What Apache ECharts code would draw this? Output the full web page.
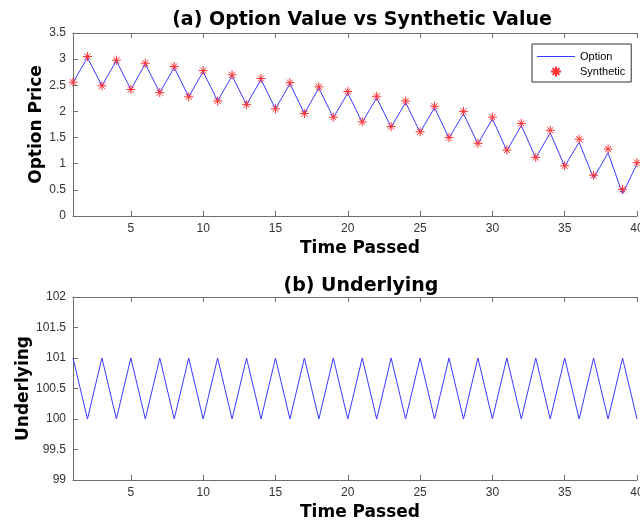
<!DOCTYPE html>
<html>
<head>
<meta charset="utf-8">
<title>Option Value vs Synthetic Value</title>
<script src="https://cdn.jsdelivr.net/npm/echarts@6/dist/echarts.min.js"></script>
<style>
  html, body { margin: 0; padding: 0; background: #fff; }
  #chart { width: 640px; height: 525px; }
</style>
</head>
<body>
<div id="chart"></div>
<script>
// Data
const timePassed = [1, 2, 3, 4, 5, 6, 7, 8, 9, 10, 11, 12, 13, 14, 15, 16, 17, 18, 19, 20,
  21, 22, 23, 24, 25, 26, 27, 28, 29, 30, 31, 32, 33, 34, 35, 36, 37, 38, 39, 40]

const optionValue = [2.55, 3.03, 2.49, 2.97, 2.42, 2.91, 2.36, 2.84, 2.28, 2.76,
  2.20, 2.68, 2.13, 2.61, 2.05, 2.53, 1.96, 2.45, 1.88, 2.35,
  1.79, 2.26, 1.70, 2.17, 1.60, 2.07, 1.49, 1.96, 1.38, 1.86,
  1.25, 1.73, 1.11, 1.59, 0.95, 1.41, 0.72, 1.21, 0.42, 1.00]

const syntheticValue = [2.56, 3.05, 2.49, 2.98, 2.42, 2.92, 2.36, 2.86, 2.28, 2.78,
  2.20, 2.70, 2.13, 2.63, 2.05, 2.55, 1.96, 2.47, 1.89, 2.38,
  1.80, 2.29, 1.71, 2.20, 1.61, 2.10, 1.50, 2.00, 1.39, 1.89,
  1.26, 1.77, 1.12, 1.64, 0.96, 1.47, 0.78, 1.28, 0.51, 1.02]

const underlying = [101, 100, 101, 100, 101, 100, 101, 100, 101, 100,
  101, 100, 101, 100, 101, 100, 101, 100, 101, 100,
  101, 100, 101, 100, 101, 100, 101, 100, 101, 100,
  101, 100, 101, 100, 101, 100, 101, 100, 101, 100]

const xTicks = [5, 10, 15, 20, 25, 30, 35, 40]

const axisColor = '#6e6e6e'
const labelColor = '#333'
const lineBlue = '#3a3aff'
const boldFont = 'DejaVu Sans'
const plainFont = 'Liberation Sans'

// MATLAB '*' marker
const asterisk = 'path://M5,0L5,10M0,5L10,5M1.6,1.6L8.4,8.4M1.6,8.4L8.4,1.6'
// plain line for the legend entry of the option curve
const lineIcon = 'path://M0,0L38,0L38,1.2L0,1.2Z'

const pairs = (xs, ys) => xs.map((x, i) => [x, ys[i]])

const bottomAxis = (gridIndex) => ({
  type: 'value',
  gridIndex: gridIndex,
  min: 1,
  max: 40,
  name: 'Time Passed',
  nameLocation: 'middle',
  nameGap: 24,
  nameMoveOverlap: false,
  nameTextStyle: { fontFamily: boldFont, fontWeight: 'bold', fontSize: 17, color: '#000', padding: [0, 0, 0, 10] },
  axisLine: { show: true, lineStyle: { color: axisColor, width: 1 } },
  axisTick: { show: true, inside: true, length: 5, customValues: xTicks, lineStyle: { color: axisColor } },
  axisLabel: { customValues: xTicks, fontFamily: plainFont, fontSize: 12, color: labelColor, margin: 7 },
  splitLine: { show: false }
})

const topAxis = (gridIndex) => ({
  type: 'value',
  gridIndex: gridIndex,
  position: 'top',
  min: 1,
  max: 40,
  axisLine: { show: true, lineStyle: { color: axisColor, width: 1 } },
  axisTick: { show: true, inside: true, length: 5, customValues: xTicks, lineStyle: { color: axisColor } },
  axisLabel: { show: false },
  splitLine: { show: false }
})

const leftAxis = (gridIndex, min, max, name, gap) => ({
  type: 'value',
  gridIndex: gridIndex,
  min: min,
  max: max,
  interval: 0.5,
  name: name,
  nameLocation: 'middle',
  nameGap: gap,
  nameMoveOverlap: false,
  nameTextStyle: { fontFamily: boldFont, fontWeight: 'bold', fontSize: 17, color: '#000' },
  axisLine: { show: true, lineStyle: { color: axisColor, width: 1 } },
  axisTick: { show: true, inside: true, length: 5, lineStyle: { color: axisColor } },
  axisLabel: { fontFamily: plainFont, fontSize: 12, color: labelColor, margin: 7 },
  splitLine: { show: false }
})

const chart = echarts.init(document.getElementById('chart'), null, { renderer: 'canvas' })

chart.setOption({
  animation: false,
  backgroundColor: '#fff',
  title: [
    {
      text: '(a) Option Value vs Synthetic Value',
      left: 357, top: 6, textAlign: 'center',
      textStyle: { fontFamily: boldFont, fontWeight: 'bold', fontSize: 19, color: '#000' }
    },
    {
      text: '(b) Underlying',
      left: 356, top: 272, textAlign: 'center',
      textStyle: { fontFamily: boldFont, fontWeight: 'bold', fontSize: 19, color: '#000' }
    }
  ],
  legend: {
    left: 532,
    top: 44,
    orient: 'vertical',
    itemWidth: 38,
    itemHeight: 10,
    itemGap: 2,
    padding: [7, 6, 3, 5],
    borderColor: '#333',
    borderWidth: 1,
    backgroundColor: '#fff',
    textStyle: { fontFamily: plainFont, fontSize: 11, color: '#000' },
    data: [
      { name: 'Option', icon: lineIcon },
      { name: 'Synthetic' }
    ]
  },
  grid: [
    { left: 73, top: 33, width: 564, height: 183, outerBoundsMode: 'none' },
    { left: 73, top: 297, width: 564, height: 183, outerBoundsMode: 'none' }
  ],
  xAxis: [bottomAxis(0), topAxis(0), bottomAxis(1), topAxis(1)],
  yAxis: [
    leftAxis(0, 0, 3.5, 'Option Price', 28),
    leftAxis(1, 99, 102, 'Underlying', 41)
  ],
  series: [
    {
      name: 'Option',
      type: 'line',
      xAxisIndex: 0,
      yAxisIndex: 0,
      data: pairs(timePassed, optionValue),
      symbol: 'none',
      lineStyle: { color: lineBlue, width: 1 },
      itemStyle: { color: lineBlue, borderColor: lineBlue, borderWidth: 0 },
      z: 2
    },
    {
      name: 'Synthetic',
      type: 'scatter',
      xAxisIndex: 0,
      yAxisIndex: 0,
      data: pairs(timePassed, syntheticValue),
      symbol: asterisk,
      symbolSize: 9,
      itemStyle: { color: 'none', borderColor: '#ff3030', borderWidth: 1, opacity: 1 },
      z: 3
    },
    {
      name: 'Underlying',
      type: 'line',
      xAxisIndex: 2,
      yAxisIndex: 1,
      data: pairs(timePassed, underlying),
      symbol: 'none',
      lineStyle: { color: lineBlue, width: 1 },
      z: 2
    }
  ]
})
</script>
</body>
</html>
